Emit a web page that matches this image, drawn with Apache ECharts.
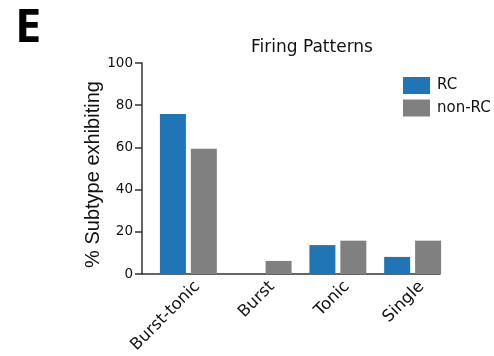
<!DOCTYPE html>
<html><head><meta charset="utf-8">
<script src="https://cdn.jsdelivr.net/npm/echarts@6/dist/echarts.min.js"></script>
<style>html,body{margin:0;padding:0;background:#fff}#c{width:494px;height:356px}</style>
</head><body><div id="c"></div>
<script>
var categories = ['Burst-tonic', 'Burst', 'Tonic', 'Single'];
var rcValues = [75.8, 0, 13.7, 8.1];
var nonRcValues = [59.4, 6.2, 15.8, 15.8];
var seriesNames = ['RC', 'non-RC'];
var yTicks = [0, 20, 40, 60, 80, 100];
var titleText = 'Firing Patterns';
var yAxisName = '% Subtype exhibiting';
var panelLabel = 'E';

var FONT = 'DejaVu Sans';
var chart = echarts.init(document.getElementById('c'), null, {renderer: 'canvas'});
var top_ = 63, bottom_ = 82;
chart.setOption({
  animation: false,
  backgroundColor: '#fff',
  title: {text: titleText, left: 307, top: 34, textAlign: 'center',
    textStyle: {fontFamily: FONT, fontSize: 17, fontWeight: 'normal', color: '#111'}},
  graphic: [{type: 'text', left: 15, top: 5,
    style: {text: panelLabel, font: 'bold 47px "Noto Sans"', fill: '#000'}}],
  legend: {orient: 'vertical', left: 398, top: 72, itemWidth: 27, itemHeight: 17, itemGap: 5.5,
    icon: 'rect', data: seriesNames,
    textStyle: {fontFamily: FONT, fontSize: 15, color: '#111', padding: [0, 0, 0, 2]}},
  grid: [
    {left: 151, right: 44, top: top_, bottom: bottom_},
    {left: 142, right: 54, top: top_, bottom: bottom_},
    {left: 160, right: 35, top: top_, bottom: bottom_}
  ],
  xAxis: [
    {type: 'category', gridIndex: 0, data: categories, show: false},
    {type: 'value', gridIndex: 1, min: 0, max: 1,
      axisLine: {show: true, lineStyle: {color: '#333', width: 1.5}},
      axisTick: {show: false}, axisLabel: {show: false}, splitLine: {show: false}},
    {type: 'category', gridIndex: 2, data: categories,
      axisLine: {show: false}, axisTick: {show: false},
      axisLabel: {rotate: 45, margin: 12, fontFamily: FONT, fontSize: 16.5, color: '#111'}}
  ],
  yAxis: [
    {type: 'value', gridIndex: 0, min: yTicks[0], max: yTicks[yTicks.length - 1], interval: 20, show: false},
    {type: 'value', gridIndex: 1, min: yTicks[0], max: yTicks[yTicks.length - 1], interval: 20,
      name: yAxisName, nameLocation: 'middle', nameGap: 39, nameRotate: 90, nameMoveOverlap: false,
      nameTextStyle: {fontFamily: 'Liberation Sans', fontSize: 20, color: '#111', padding: [0, 12, 0, 0]},
      axisLine: {show: true, lineStyle: {color: '#333', width: 1.5}},
      axisTick: {show: true, length: 7, lineStyle: {color: '#333', width: 1.5}},
      axisLabel: {margin: 9, fontFamily: FONT, fontSize: 13.5, color: '#111'},
      splitLine: {show: false}},
    {type: 'value', gridIndex: 2, min: 0, max: 100, show: false}
  ],
  series: [
    {name: seriesNames[0], type: 'bar', xAxisIndex: 0, yAxisIndex: 0, data: rcValues,
      barWidth: 26, barGap: '19%', itemStyle: {color: '#1F75B5'}},
    {name: seriesNames[1], type: 'bar', xAxisIndex: 0, yAxisIndex: 0, data: nonRcValues,
      barWidth: 26, barGap: '19%', itemStyle: {color: '#808080'}}
  ]
});
</script></body></html>
